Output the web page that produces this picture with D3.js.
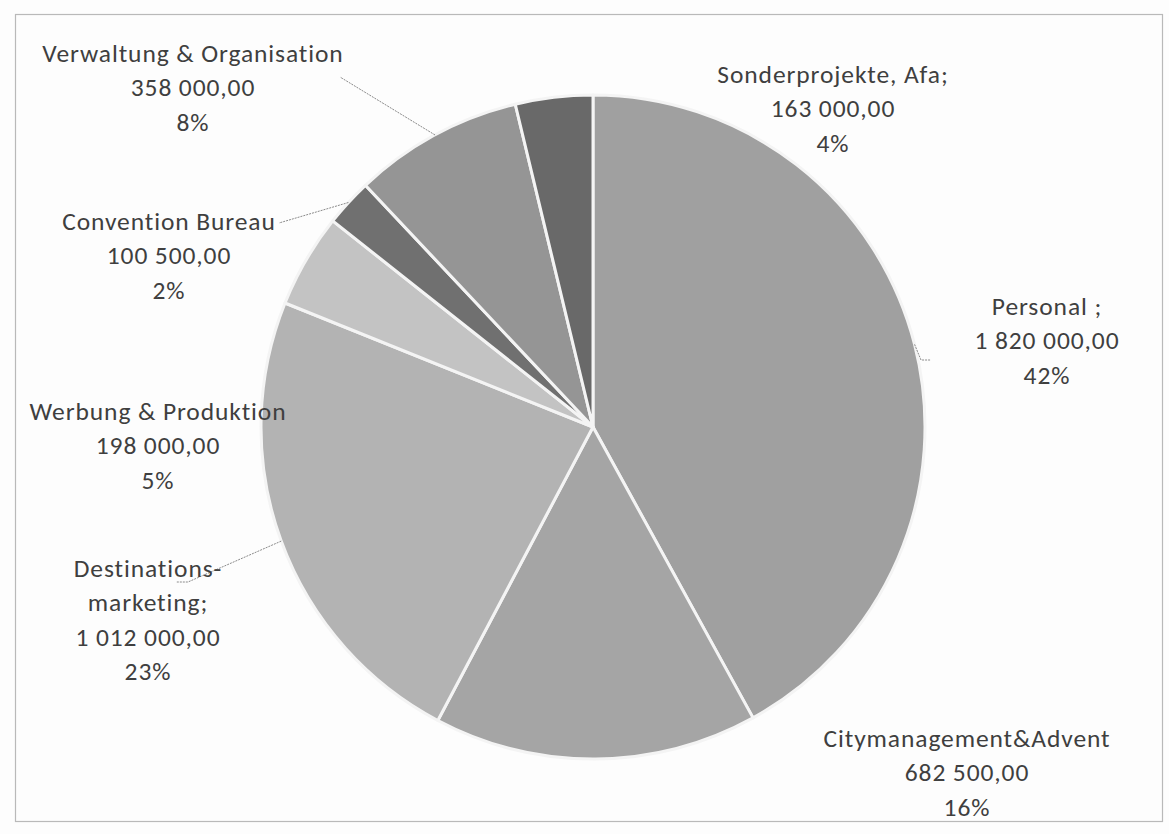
<!DOCTYPE html>
<html>
<head>
<meta charset="utf-8">
<script src="https://cdn.jsdelivr.net/npm/d3@7"></script>
<style>
  html, body { margin: 0; padding: 0; background: #fdfdfd; }
  svg { display: block; }
  text { font-family: Carlito, Calibri, Lato, "Noto Sans", sans-serif; fill: #3f3f3f; }
</style>
</head>
<body>
<svg id="chart" width="1169" height="834"></svg>
<script>
// ---- data ----
const categories = [
  "Personal ;",
  "Citymanagement&Advent",
  "Destinations-\nmarketing;",
  "Werbung & Produktion",
  "Convention Bureau",
  "Verwaltung & Organisation",
  "Sonderprojekte, Afa;"
];
const values = [1820000, 682500, 1012000, 198000, 100500, 358000, 163000];

// ---- style / layout (separate from data) ----
const palette = ["#a0a0a0", "#a5a5a5", "#b3b3b3", "#c3c3c3", "#707070", "#959595", "#696969"];
const W = 1169, H = 834;
const cx = 593, cy = 427, R = 332;
const lineH = 34.5;
// label first-line centre for each slice, and where its leader line attaches (null = no leader)
const labelLayout = [
  { x: 1047, y: 306, leader: [[921, 360], [931, 360]] },
  { x: 967,  y: 738, leader: null },
  { x: 148,  y: 568, leader: [[188, 582], [176, 582]] },
  { x: 158,  y: 411, leader: null },
  { x: 169,  y: 221, leader: [[279, 223]] },
  { x: 193,  y: 53,  leader: [[340, 77]] },
  { x: 833,  y: 74,  leader: null }
];

const locale = d3.formatLocale({ decimal: ",", thousands: " ", grouping: [3], currency: ["", ""] });
const fmtVal = locale.format(",.2f");
const total = d3.sum(values);

const svg = d3.select("#chart");
svg.append("rect").attr("width", W).attr("height", H).attr("fill", "#fdfdfd");
// outer frame
svg.append("rect")
  .attr("x", 15.5).attr("y", 14.5).attr("width", 1147).attr("height", 807)
  .attr("fill", "none").attr("stroke", "#b9b9b9").attr("stroke-width", 1.2);

const data = categories.map((c, i) => ({ name: c, value: values[i], i }));
const pie = d3.pie().value(d => d.value).sort(null);
const arcs = pie(data);
const arc = d3.arc().innerRadius(0).outerRadius(R);
const edgeArc = d3.arc().innerRadius(R).outerRadius(R);

const g = svg.append("g").attr("transform", `translate(${cx},${cy})`);
g.selectAll("path.slice")
  .data(arcs)
  .join("path")
  .attr("class", "slice")
  .attr("d", arc)
  .attr("fill", d => palette[d.data.i])
  .attr("stroke", "#f4f4f4")
  .attr("stroke-width", 3)
  .attr("stroke-linejoin", "round");

// leader lines
const lineGen = d3.line();
arcs.forEach(a => {
  const lay = labelLayout[a.data.i];
  if (!lay.leader) return;
  const [ex, ey] = edgeArc.centroid(a);
  const pts = [[cx + ex, cy + ey], ...lay.leader];
  svg.append("path")
    .attr("d", lineGen(pts))
    .attr("fill", "none")
    .attr("stroke", "#8a8a8a")
    .attr("stroke-width", 1)
    .attr("stroke-dasharray", "2,1");
});

// labels
arcs.forEach(a => {
  const lay = labelLayout[a.data.i];
  const lines = a.data.name.split("\n");
  lines.push(fmtVal(a.data.value));
  lines.push(Math.round(a.data.value / total * 100) + "%");
  const t = svg.append("text")
    .attr("text-anchor", "middle")
    .attr("font-size", 25.5)
    .attr("letter-spacing", "0.9px");
  lines.forEach((ln, k) => {
    t.append("tspan")
      .attr("x", lay.x)
      .attr("y", lay.y + k * lineH)
      .attr("dy", "0.35em")
      .text(ln);
  });
});
</script>
</body>
</html>
